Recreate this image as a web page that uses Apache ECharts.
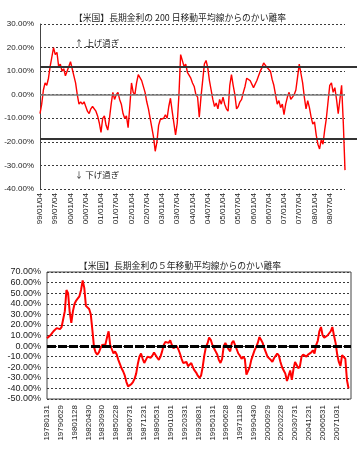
<!DOCTYPE html>
<html><head><meta charset="utf-8">
<script src="https://cdn.jsdelivr.net/npm/echarts@6/dist/echarts.min.js"></script>
<style>html,body{margin:0;padding:0;background:#fff}#c{width:360px;height:451px}</style>
</head><body><div id="c"></div>
<script>
// ---------- data ----------
const topTitle = '【米国】長期金利の 200 日移動平均線からのかい離率';
const bottomTitle = '【米国】長期金利の５年移動平均線からのかい離率';

// top chart: tick labels every half year, 9 samples per half year (1999/01 – 2008/12)
const topTickLabels = ['99/01/04','99/07/04','00/01/04','00/07/04','01/01/04','01/07/04','02/01/04','02/07/04','03/01/04','03/07/04','04/01/04','04/07/04','05/01/04','05/07/04','06/01/04','06/07/04','07/01/04','07/07/04','08/01/04','08/07/04'];
const topSamplesPerTick = 9;
const topValues = [
  -8, -4, 2, 5, 4, 7, 12, 16, 20, 17,
  18, 12, 13, 10, 11, 8, 10, 12, 14, 11,
  8, 5, 0, -4, -3, -4, -3, -5, -7, -8,
  -6, -5, -5.5, -7, -9, -12, -16, -10, -9, -13,
  -15, -10, -4, 1, -2, 0, 1, -2, -4, -8,
  -10, -9, -14, -5, 5, 1, 0, 5, 8.5, 9,
  6, 6, 1, -3, -6, -10, -14, -18, -24, -20,
  -13, -10.5, -11, -10, -8.5, -10, -5, -1.5, -7, -12,
  -17, -12, 0, 17, 16.5, 12, 13, 9.5, 10, 7,
  5, 3.5, 0, -1, -9.5, -1, 6, 13, 14.5, 11.5,
  6, 2, -2, -5, -3.5, -6, -2, -4, -1, -4,
  -6, -7, 4, 8.5, 4, 0, -6, -5, -3, -2,
  1, 3.5, 7, 7, 6, 6, 3, 3.5, 6, 8,
  10, 11.5, 13.5, 14, 11.5, 11, 10, 6.5, 4, 0,
  -4, -2.5, -5.5, -4, -8.5, -4, -1, 1, -2, -1,
  0, 2, 7.5, 13, 9, 5, -1, -6, -2.5, -5.5,
  -9.5, -12.5, -11.5, -17, -21, -23, -19, -21, -15, -10,
  -3, 4, 5, 1, 3, -2, -8, -2, 4, -12,
  -32
];
const topBands = [12, -18.5];          // 上げ過ぎ / 下げ過ぎ reference lines (%)
const topNotes = [
  {name: '↑ 上げ過ぎ', x: 33.6, y: 22.2},
  {name: '↓ 下げ過ぎ', x: 33.6, y: -33.9}
];

// bottom chart: monthly axis 1978/01 – 2009, tick label every 17 months, sampled every 2 months
const bottomTickLabels = ['19780131','19790629','19801128','19820430','19830930','19850228','19860731','19871231','19890531','19901031','19920331','19930831','19950131','19960628','19971128','19990430','20000929','20020228','20030731','20041231','20060531','20071031'];
const bottomMonthsPerTick = 17;
const bottomStepMonths = 2;
const bottomValues = [
  7.5, 8, 10, 12, 14, 15, 17, 16, 16, 18,
  18, 33, 53, 50, 32, 22, 33, 40, 43, 45,
  47, 53, 62, 55, 38, 37, 35, 30, 15, -1,
  -6, -8, -6, -2, 1, 0, 1.5, 8, 14, 1,
  -3, -7, -5, -8, -13, -17, -21, -24, -28, -34,
  -38, -37, -36, -34, -31, -26, -17, -10, -7, -12,
  -16, -13, -10, -9, -11, -9, -6, -5, -11, -13,
  -10, -5, 1, 4, 5.5, 3, 5.5, 1, -2, -1,
  0, -3, -7, -12, -16, -17, -15, -19, -19, -16,
  -20, -23, -25, -28, -30, -28, -20, -9, -1, 2.5,
  8, 6, 1, -2, -5, -8, -13, -16, -12, 0,
  3, 3, -3, -5, 3, 5, 1, -3, -7, -9,
  -12, -10, -12, -27, -27, -20, -13, -8.5, -4, -1,
  3, 8.5, 6, 3, -2, -6, -10, -8.5, -13, -15,
  -11.5, -12.5, -7, -9, -15, -20, -23, -26, -33, -28,
  -23, -32, -22, -15, -16, -21, -19, -10, -8, -7,
  -10, -8, -7, -6, -4, -7, 1, 5, 14, 18,
  10, 8, 9, 10, 9, 14, 18, 10, 3, -8,
  -15, -19, -8.5, -8.5, -12, -32, -40
];
const bottomAxisMonths = 375;

// ---------- chart ----------
const chart = echarts.init(document.getElementById('c'), null, {renderer: 'canvas'});
const pct = v => v.toFixed(2) + '%';
const numFont = '"Liberation Sans", Arial, sans-serif';
const jpFont = '"Noto Sans CJK JP", sans-serif';
const dotted = {color: '#3a3a3a', type: [2, 2], width: 1};

const option = {
  animation: false,
  backgroundColor: '#fff',
  title: [
    {text: topTitle, left: 'center', top: 8, textStyle: {fontSize: 8.8, fontWeight: 'normal', color: '#222', fontFamily: jpFont}},
    {text: bottomTitle, left: 'center', top: 256, textStyle: {fontSize: 8.8, fontWeight: 'normal', color: '#222', fontFamily: jpFont}}
  ],
  grid: [
    {left: 40, right: 15, top: 24, height: 165},
    {left: 40, right: 3, top: 24, height: 165},
    {left: 47, right: 9, top: 272, height: 127, show: true, borderColor: '#444', borderWidth: 1, backgroundColor: 'transparent'}
  ],
  xAxis: [
    {gridIndex: 0, type: 'value', min: 0, max: topValues.length - 1, interval: topSamplesPerTick,
      axisLine: {show: false}, axisTick: {show: false}, splitLine: {show: false},
      axisLabel: {rotate: 90, margin: 4, fontSize: 8, color: '#222', fontFamily: numFont,
        formatter: v => Number.isInteger(v / topSamplesPerTick) ? (topTickLabels[v / topSamplesPerTick] || '') : ''}},
    {gridIndex: 1, type: 'value', min: 0, max: 1, show: false},
    {gridIndex: 2, type: 'value', min: 0, max: bottomAxisMonths, interval: bottomMonthsPerTick,
      axisLine: {show: false}, axisTick: {show: false}, splitLine: {show: false},
      axisLabel: {rotate: 90, margin: 6, fontSize: 8, color: '#222', fontFamily: numFont, showMaxLabel: false,
        formatter: v => Number.isInteger(v / bottomMonthsPerTick) ? (bottomTickLabels[v / bottomMonthsPerTick] || '') : ''}}
  ],
  yAxis: [
    {gridIndex: 0, type: 'value', min: -40, max: 30, interval: 10,
      axisLine: {show: true, lineStyle: {color: '#444', width: 1}}, axisTick: {show: false},
      splitLine: {show: true, lineStyle: dotted},
      axisLabel: {fontSize: 8, margin: 6, color: '#222', fontFamily: numFont, formatter: pct}},
    {gridIndex: 1, type: 'value', min: -40, max: 30, show: false},
    {gridIndex: 2, type: 'value', min: -50, max: 70, interval: 10,
      axisLine: {show: false}, axisTick: {show: false},
      splitLine: {show: true, lineStyle: dotted},
      axisLabel: {fontSize: 9, margin: 6, color: '#222', fontFamily: numFont, formatter: pct}}
  ],
  series: [
    {type: 'line', xAxisIndex: 1, yAxisIndex: 1, data: [], silent: true,
      markLine: {silent: true, symbol: 'none', label: {show: false},
        lineStyle: {color: '#333', width: 2, type: 'solid'},
        data: topBands.map(b => ({yAxis: b}))}},
    {type: 'line', xAxisIndex: 0, yAxisIndex: 0, showSymbol: false, silent: true,
      data: topValues.map((v, i) => [i, v]),
      lineStyle: {color: '#ff0000', width: 1.4},
      markLine: {silent: true, symbol: 'none', label: {show: false},
        lineStyle: {color: '#7a7a7a', width: 1.5, type: 'solid'},
        data: [{yAxis: 0}]},
      markPoint: {silent: true, symbol: 'circle', symbolSize: 1, itemStyle: {color: 'rgba(0,0,0,0)'},
        label: {show: true, position: 'inside', formatter: '{b}', fontSize: 8.5, color: '#222', fontFamily: jpFont},
        data: topNotes.map(n => ({name: n.name, coord: [n.x, n.y]}))}},
    {type: 'line', xAxisIndex: 2, yAxisIndex: 2, showSymbol: false, silent: true,
      data: bottomValues.map((v, k) => [k * bottomStepMonths, v]),
      lineStyle: {color: '#ff0000', width: 2},
      markLine: {silent: true, symbol: 'none', label: {show: false},
        lineStyle: {color: '#000', width: 3, type: [9, 2]},
        data: [{yAxis: 0}]}}
  ]
};
chart.setOption(option);
</script>
</body></html>
